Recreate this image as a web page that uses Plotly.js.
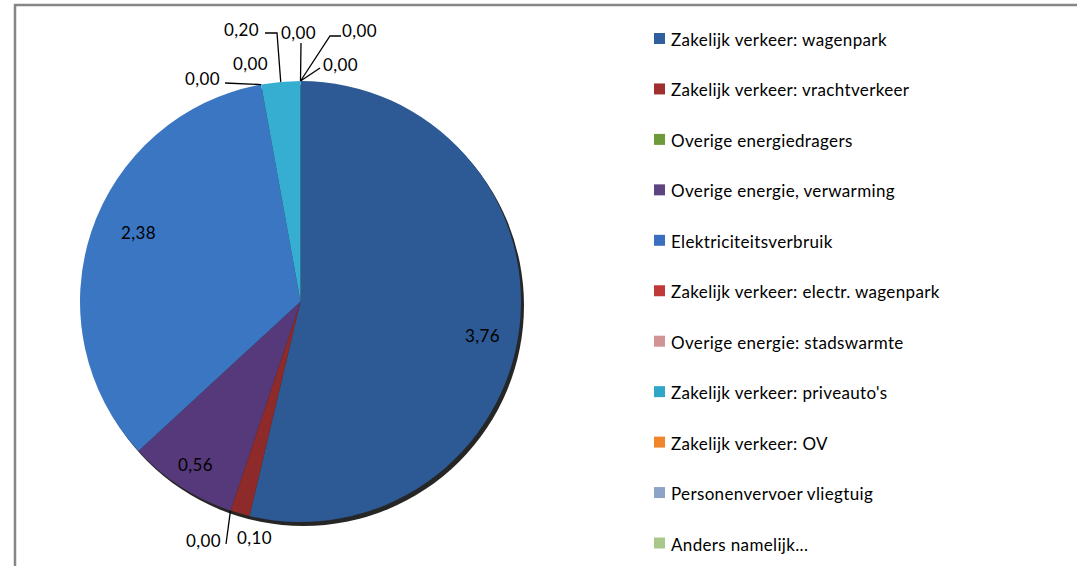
<!DOCTYPE html>
<html><head><meta charset="utf-8">
<script src="https://cdn.plot.ly/plotly-3.0.1.min.js"></script>
<style>html,body{margin:0;padding:0;background:#fff}
.annotation-text{letter-spacing:0.35px}</style>
</head><body><div id="chart" style="width:1077px;height:566px"></div>
<script>
const categories = [
  "Zakelijk verkeer: wagenpark",
  "Zakelijk verkeer: vrachtverkeer",
  "Overige energiedragers",
  "Overige energie, verwarming",
  "Elektriciteitsverbruik",
  "Zakelijk verkeer: electr. wagenpark",
  "Overige energie: stadswarmte",
  "Zakelijk verkeer: priveauto's",
  "Zakelijk verkeer: OV",
  "Personenvervoer vliegtuig",
  "Anders namelijk..."
];
const values = [3.76, 0.10, 0.00, 0.56, 2.38, 0.00, 0.00, 0.20, 0.00, 0.00, 0.00];
const sliceColors = ["#2D5A94", "#8E2B2A", "#6F9A3A", "#56397A", "#3B76C2", "#B83434", "#D09494", "#36AED2", "#F0852A", "#8DA3C8", "#A8C88A"];
const legendColors = ["#2F5F9F", "#A03030", "#6F9A3A", "#5E4480", "#3A6FBF", "#C03838", "#D09494", "#30A6C8", "#F0852A", "#8DA3C8", "#A8C88A"];

// data-label placement (text centre in px, optional leader-line elbow points)
const labelPlacement = {
  0: {pos: [482, 335]},
  1: {pos: [254, 537]},
  2: {pos: [203, 540], line: [[226, 544]]},
  3: {pos: [195, 464]},
  4: {pos: [138, 232]},
  5: {pos: [202, 78], line: [[225, 83]]},
  6: {pos: [250, 63]},
  7: {pos: [241, 29], line: [[277, 33], [265, 33]], mid: true},
  8: {pos: [298, 32], line: [[301, 43]]},
  9: {pos: [359, 30], line: [[330, 36], [341, 36]]},
  10: {pos: [340, 64], line: [[320, 68]]}
};

const W = 1077, H = 566;
const cx = 300.5, cy = 301.5, R = 220.5;
const FONT = "Lato, 'Open Sans', sans-serif";
const fmt = v => v.toFixed(2).replace('.', ',');

const total = values.reduce((a, b) => a + b, 0);
function edge(theta, rr) { return [cx + rr * Math.sin(theta), cy - rr * Math.cos(theta)]; }

const annotations = [];
const shapes = [];
// shadow
shapes.push({type: 'circle', xref: 'x', yref: 'y', x0: cx - R + 3, x1: cx + R + 3, y0: cy - R + 4, y1: cy + R + 4,
  fillcolor: 'rgba(0,0,0,0.85)', line: {width: 0}, layer: 'below'});
// frame
shapes.push({type: 'line', xref: 'x', yref: 'y', x0: 14, x1: 1077, y0: 5, y1: 5, line: {color: '#868686', width: 2.5}});
shapes.push({type: 'line', xref: 'x', yref: 'y', x0: 15, x1: 15, y0: 4, y1: 566, line: {color: '#868686', width: 2.5}});

let cum = 0;
values.forEach((v, i) => {
  const start = cum / total * 2 * Math.PI;
  const mid = (cum + v / 2) / total * 2 * Math.PI;
  cum += v;
  const s = labelPlacement[i];
  annotations.push({x: s.pos[0], y: s.pos[1], xref: 'x', yref: 'y', text: fmt(v), showarrow: false,
    font: {family: FONT, size: 17, color: '#000'}});
  if (s.line) {
    const e = edge(s.mid ? mid : start, R);
    let d = 'M' + e[0] + ',' + e[1];
    s.line.forEach(pt => { d += ' L' + pt[0] + ',' + pt[1]; });
    shapes.push({type: 'path', xref: 'x', yref: 'y', path: d, line: {color: '#000', width: 1.3}});
  }
});

// legend
categories.forEach((c, i) => {
  const yc = 38.5 + i * 50.45;
  shapes.push({type: 'rect', xref: 'x', yref: 'y', x0: 654, x1: 665, y0: yc - 5.5, y1: yc + 5.5,
    fillcolor: legendColors[i], line: {width: 0}});
  annotations.push({x: 669, y: yc + 1, xref: 'x', yref: 'y', xanchor: 'left', yanchor: 'middle', text: c,
    showarrow: false, font: {family: FONT, size: 17, color: '#000'}});
});

const data = [{
  type: 'pie',
  labels: categories,
  values: values,
  sort: false,
  direction: 'clockwise',
  rotation: 0,
  textinfo: 'none',
  hoverinfo: 'label+value',
  marker: {colors: sliceColors, line: {width: 0}},
  domain: {x: [(cx - R) / W, (cx + R) / W], y: [(H - cy - R) / H, (H - cy + R) / H]},
  showlegend: false
}];

const layout = {
  width: W, height: H,
  margin: {l: 0, r: 0, t: 0, b: 0},
  paper_bgcolor: '#fff', plot_bgcolor: 'rgba(0,0,0,0)',
  separators: ',.',
  showlegend: false,
  xaxis: {range: [0, W], visible: false, fixedrange: true, domain: [0, 1]},
  yaxis: {range: [H, 0], visible: false, fixedrange: true, domain: [0, 1]},
  shapes: shapes,
  annotations: annotations
};

Plotly.newPlot('chart', data, layout, {displayModeBar: false, staticPlot: true});
</script></body></html>
